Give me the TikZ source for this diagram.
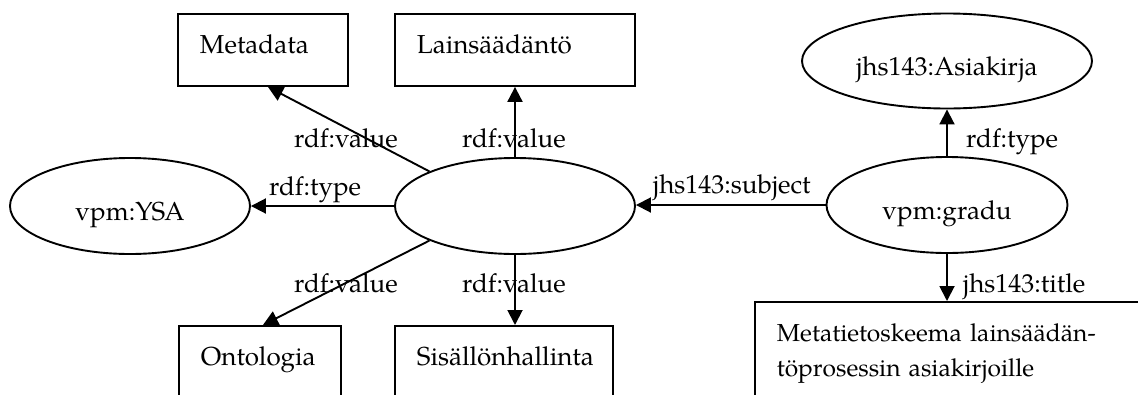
\documentclass[tikz,border=0pt]{standalone}
\usepackage{fontspec}
\setmainfont{TeX Gyre Pagella}
\usetikzlibrary{arrows.meta,shapes.geometric}

\begin{document}
\begin{tikzpicture}[x=1pt,y=-1pt,
  every node/.style={font=\fontsize{26pt}{35pt}\selectfont},
  res/.style={draw, line width=1.9pt, ellipse, inner sep=0pt,
    text height=28pt, text depth=0pt},
  lit/.style={draw, line width=1.9pt, rectangle, anchor=north west,
    inner xsep=22pt, inner ysep=20pt, text height=20pt, align=left},
  arr/.style={line width=1.9pt, -{Triangle[length=15pt,width=15pt]}},
  lbl/.style={anchor=base west, inner sep=0pt}]

\useasboundingbox (0,0) rectangle (1138,394);
\clip (0,0) rectangle (1138,394);

% resources
\node[res, minimum width=240pt, minimum height=96pt] (ysa)   at (130,206) {vpm:YSA};
\node[res, minimum width=240pt, minimum height=96pt] (ctr)   at (515,206) {};
\node[res, minimum width=290pt, minimum height=95pt] (asia)  at (947,61)  {jhs143:Asiakirja};
\node[res, minimum width=241pt, minimum height=96pt] (gradu) at (947,205) {vpm:gradu};

% literals
\node[lit, text width=126pt, text depth=12pt] (meta) at (177,13)  {Metadata};
\node[lit, text width=196pt, text depth=12pt] (lain) at (394,13)  {Lainsäädäntö};
\node[lit, text width=118pt, text depth=50pt] (ont)  at (178,325) {Ontologia};
\node[lit, text width=174pt, text depth=50pt] (sis)  at (394,325) {Sisällönhallinta};
\node[lit, text width=376pt, text depth=70pt,
      font=\fontsize{24.6pt}{35pt}\selectfont] (title) at (754,301)
  {Metatietoskeema lainsäädän-\\töprosessin asiakirjoille};

% properties
\draw[arr] (ctr.west) -- (ysa.east);
\draw[arr] (ctr.158) -- ([xshift=5pt]meta.south);
\draw[arr] (ctr.north) -- (ctr.north |- lain.south);
\draw[arr] (ctr.202) -- ([xshift=3pt]ont.north);
\draw[arr] (ctr.south) -- (ctr.south |- sis.north);
\draw[arr] (gradu.west) -- (gradu.west -| ctr.east);
\draw[arr] (gradu.north) -- (gradu.north |- asia.south);
\draw[arr] (gradu.south) -- (gradu.south |- title.north);

% property labels
\node[lbl] (l-ysa)   at (269,195) {rdf:type};
\node[lbl] (l-meta)  at (294,147) {rdf:value};
\node[lbl] (l-lain)  at (462,147) {rdf:value};
\node[lbl] (l-ont)   at (294,292) {rdf:value};
\node[lbl] (l-sis)   at (462,292) {rdf:value};
\node[lbl] (l-subj)  at (653,193) {jhs143:subject};
\node[lbl] (l-type)  at (966,147) {rdf:type};
\node[lbl] (l-title) at (963,292) {jhs143:title};
\end{tikzpicture}
\end{document}
